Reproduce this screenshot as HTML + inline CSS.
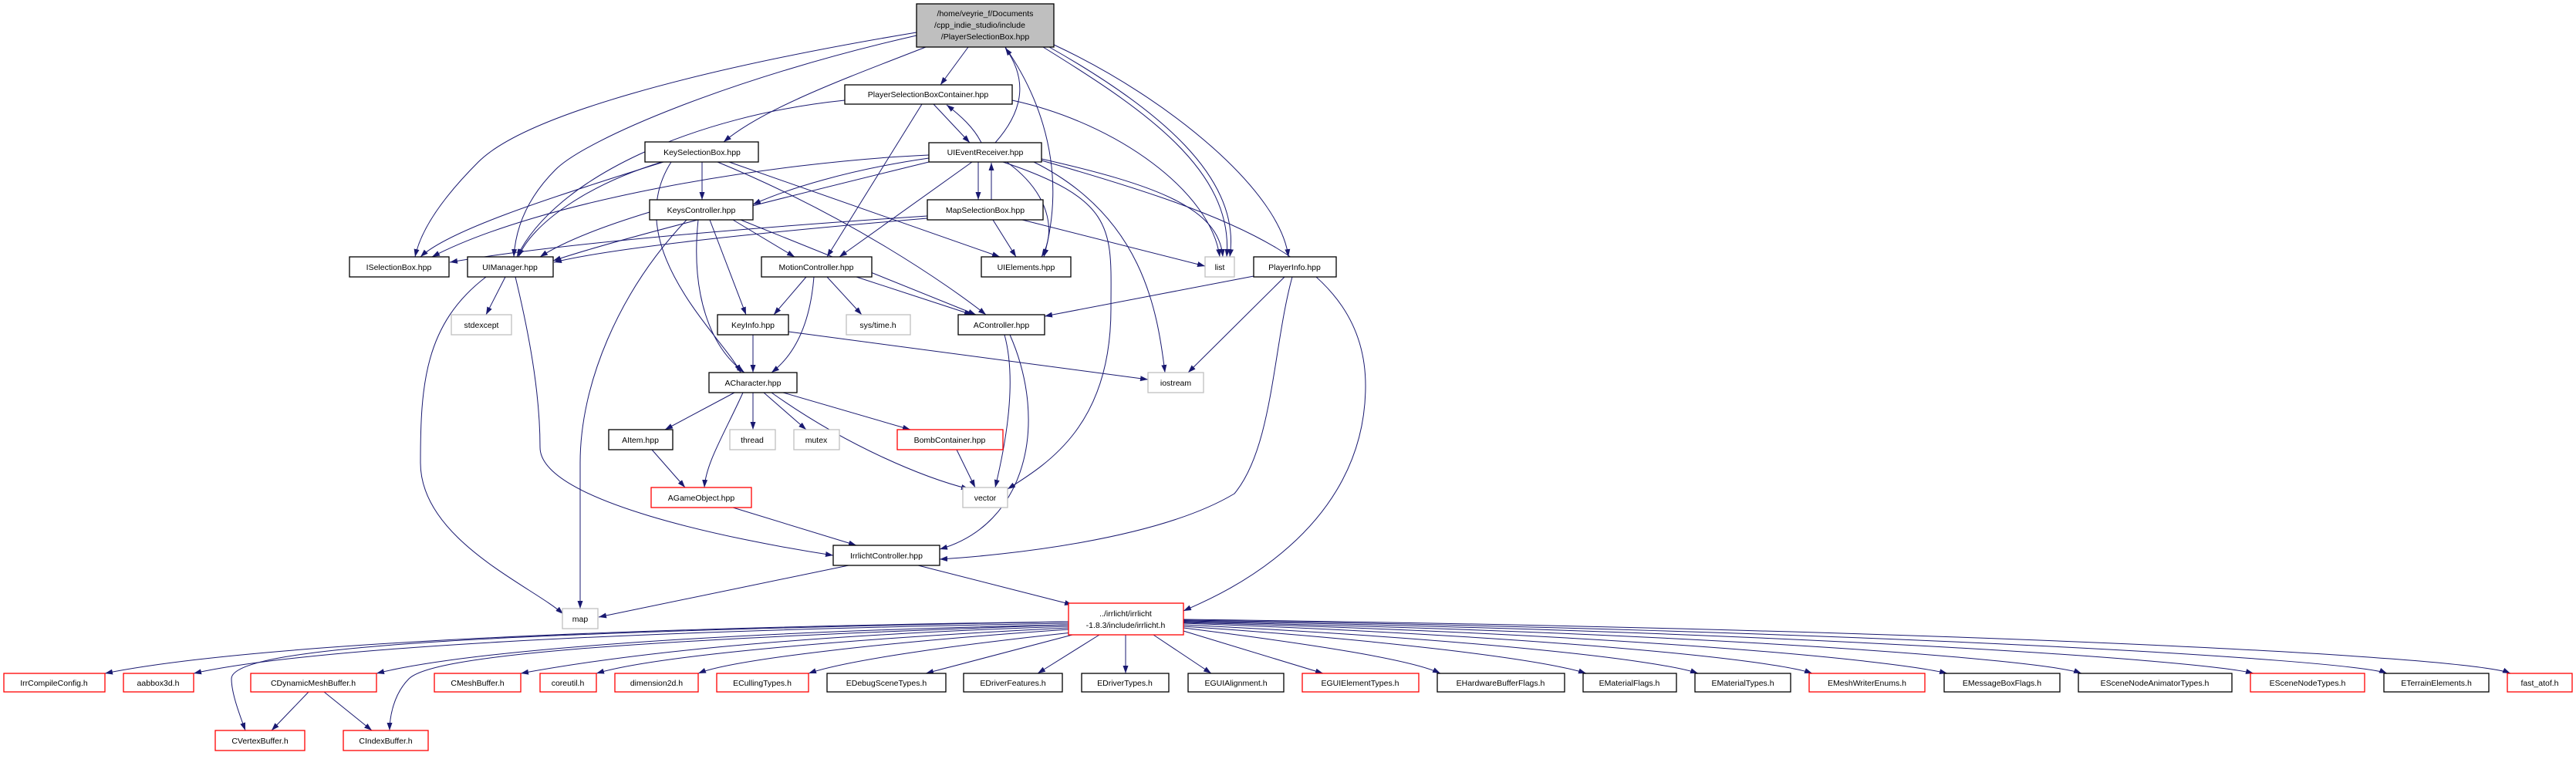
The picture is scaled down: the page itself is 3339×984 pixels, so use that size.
<!DOCTYPE html>
<html><head><meta charset="utf-8"><style>
html,body{margin:0;padding:0;background:#fff;}
svg text{font-family:"Liberation Sans",sans-serif;font-size:10.5px;}
</style></head><body>
<svg width="3339" height="979" viewBox="0 0 3339 979" xmlns="http://www.w3.org/2000/svg">
<defs><marker id="a" markerUnits="userSpaceOnUse" markerWidth="11" markerHeight="8" refX="10" refY="3.5" orient="auto"><path d="M0,0 L10,3.5 L0,7 z" fill="#191970"/></marker></defs>
<g fill="none" stroke="#191970" stroke-width="1" marker-end="url(#a)">
<path d="M1255,61 L1219,110"/>
<path d="M1200,61 C1100,100 990,140 938,184"/>
<path d="M1188,42 C900,90 680,150 620,210 C570,260 545,300 538,333"/>
<path d="M1188,46 C950,100 760,180 720,220 C680,260 668,300 666,333"/>
<path d="M1303,61 C1330,100 1390,200 1353,333"/>
<path d="M1290,185 C1330,140 1330,100 1303,62"/>
<path d="M1352,61 C1480,140 1600,220 1590,333"/>
<path d="M1360,61 C1500,140 1610,230 1594,333"/>
<path d="M1366,58 C1520,130 1660,250 1670,333"/>
<path d="M1210,135 L1257,185"/>
<path d="M1272,185 C1262,165 1245,150 1227,136"/>
<path d="M1095,130 C900,150 720,230 670,333"/>
<path d="M1195,135 L1072,333"/>
<path d="M1312,130 C1450,160 1570,250 1581,333"/>
<path d="M1268,210 L1268,259"/>
<path d="M1285,259 L1285,211"/>
<path d="M1305,210 C1360,250 1370,300 1350,333"/>
<path d="M1350,206 C1500,240 1580,270 1585,333"/>
<path d="M1340,210 C1480,280 1500,400 1510,483"/>
<path d="M1300,210 C1450,260 1440,300 1440,400 C1440,550 1360,600 1306,634"/>
<path d="M1350,208 C1600,280 1770,340 1770,500 C1770,700 1560,780 1534,792"/>
<path d="M1204,205 C1100,220 1020,245 976,265"/>
<path d="M1260,210 L1088,333"/>
<path d="M1204,210 C1000,260 800,310 717,338"/>
<path d="M1204,201 C1000,210 700,260 560,333"/>
<path d="M1202,280 C900,300 700,320 583,340"/>
<path d="M1202,283 C1000,300 800,320 718,340"/>
<path d="M1287,285 L1317,333"/>
<path d="M1325,285 L1562,345"/>
<path d="M910,210 L910,259"/>
<path d="M860,210 C700,260 580,300 545,333"/>
<path d="M858,210 C760,240 690,290 672,333"/>
<path d="M945,210 L1296,333"/>
<path d="M930,210 C1100,280 1230,370 1278,408"/>
<path d="M870,210 C800,320 940,440 960,483"/>
<path d="M905,285 C895,380 920,450 965,483"/>
<path d="M920,285 L967,408"/>
<path d="M950,285 L1030,333"/>
<path d="M890,285 C800,380 752,500 752,600 L752,789"/>
<path d="M960,285 L1265,408"/>
<path d="M842,275 C760,300 720,320 700,333"/>
<path d="M1110,359 L1260,408"/>
<path d="M1045,359 L1003,408"/>
<path d="M1055,359 C1050,420 1030,460 1000,483"/>
<path d="M1072,359 L1117,408"/>
<path d="M976,434 L976,483"/>
<path d="M1022,430 L1488,492"/>
<path d="M952,509 L862,557"/>
<path d="M963,509 C940,560 915,600 913,632"/>
<path d="M976,509 L976,557"/>
<path d="M990,509 L1045,557"/>
<path d="M1015,509 L1180,557"/>
<path d="M1000,509 C1100,580 1200,620 1256,634"/>
<path d="M845,583 L888,632"/>
<path d="M950,658 L1110,707"/>
<path d="M1240,583 L1264,632"/>
<path d="M1302,434 C1320,500 1300,590 1290,632"/>
<path d="M1309,434 C1360,550 1330,680 1218,712"/>
<path d="M1625,358 L1354,410"/>
<path d="M1665,359 L1540,483"/>
<path d="M1675,359 C1650,450 1650,580 1600,640 C1500,700 1300,720 1218,725"/>
<path d="M655,359 L630,408"/>
<path d="M630,359 C550,420 545,500 545,600 C545,700 690,760 730,796"/>
<path d="M668,359 C690,450 700,520 700,580 C700,650 950,700 1080,720"/>
<path d="M1100,733 L776,800"/>
<path d="M1190,733 L1390,784"/>
<path d="M400,897 L352,947"/>
<path d="M420,897 L482,947"/>
<path d="M1385,806 C600,820 300,840 300,880 C300,900 312,930 318,947"/>
<path d="M1385,810 C800,830 560,850 530,880 C510,900 505,930 505,947"/>
<path d="M1385,806 C700,815 300,840 136,873"/>
<path d="M1385,808 C800,818 400,840 251,873"/>
<path d="M1385,810 C900,820 600,845 488,873"/>
<path d="M1385,812 C1000,825 800,850 675,873"/>
<path d="M1385,814 C1100,828 850,850 773,873"/>
<path d="M1385,816 C1150,832 950,855 905,873"/>
<path d="M1390,820 C1250,835 1100,855 1048,873"/>
<path d="M1390,823 L1200,873"/>
<path d="M1425,823 L1345,873"/>
<path d="M1459,823 L1459,873"/>
<path d="M1495,823 L1570,873"/>
<path d="M1534,818 L1715,873"/>
<path d="M1534,814 C1700,835 1830,855 1867,873"/>
<path d="M1534,812 C1800,830 2000,855 2056,873"/>
<path d="M1534,810 C1900,828 2150,855 2201,873"/>
<path d="M1534,808 C2000,825 2300,855 2349,873"/>
<path d="M1534,807 C2100,822 2450,855 2524,873"/>
<path d="M1534,806 C2200,820 2650,855 2698,873"/>
<path d="M1534,805 C2300,818 2850,855 2921,873"/>
<path d="M1534,804 C2400,816 3050,855 3094,873"/>
<path d="M1534,803 C2500,815 3200,850 3254,873"/>
</g>
<g stroke-width="1.3" fill="#fff">
<rect x="1188" y="5" width="178" height="56" fill="#bfbfbf" stroke="#000"/>
<rect x="1095" y="110" width="217" height="25" stroke="#000"/>
<rect x="836" y="184" width="147" height="26" stroke="#000"/>
<rect x="1204" y="185" width="146" height="25" stroke="#000"/>
<rect x="1202" y="259" width="150" height="26" stroke="#000"/>
<rect x="842" y="259" width="134" height="26" stroke="#000"/>
<rect x="453" y="333" width="129" height="26" stroke="#000"/>
<rect x="606" y="333" width="111" height="26" stroke="#000"/>
<rect x="987" y="333" width="143" height="26" stroke="#000"/>
<rect x="1272" y="333" width="116" height="26" stroke="#000"/>
<rect x="1562" y="333" width="38" height="26" stroke="#bfbfbf"/>
<rect x="1625" y="333" width="107" height="26" stroke="#000"/>
<rect x="585" y="408" width="78" height="26" stroke="#bfbfbf"/>
<rect x="930" y="408" width="92" height="26" stroke="#000"/>
<rect x="1097" y="408" width="83" height="26" stroke="#bfbfbf"/>
<rect x="1242" y="408" width="112" height="26" stroke="#000"/>
<rect x="1488" y="483" width="72" height="26" stroke="#bfbfbf"/>
<rect x="919" y="483" width="114" height="26" stroke="#000"/>
<rect x="789" y="557" width="83" height="26" stroke="#000"/>
<rect x="946" y="557" width="59" height="26" stroke="#bfbfbf"/>
<rect x="1029" y="557" width="59" height="26" stroke="#bfbfbf"/>
<rect x="1163" y="557" width="137" height="26" stroke="#ff0000"/>
<rect x="844" y="632" width="130" height="26" stroke="#ff0000"/>
<rect x="1248" y="632" width="58" height="26" stroke="#bfbfbf"/>
<rect x="1080" y="707" width="138" height="26" stroke="#000"/>
<rect x="729" y="789" width="46" height="26" stroke="#bfbfbf"/>
<rect x="1385" y="782" width="149" height="41" stroke="#ff0000"/>
<rect x="5" y="873" width="131" height="24" stroke="#ff0000"/>
<rect x="160" y="873" width="91" height="24" stroke="#ff0000"/>
<rect x="325" y="873" width="163" height="24" stroke="#ff0000"/>
<rect x="563" y="873" width="112" height="24" stroke="#ff0000"/>
<rect x="700" y="873" width="73" height="24" stroke="#ff0000"/>
<rect x="797" y="873" width="108" height="24" stroke="#ff0000"/>
<rect x="929" y="873" width="119" height="24" stroke="#ff0000"/>
<rect x="1072" y="873" width="154" height="24" stroke="#000"/>
<rect x="1249" y="873" width="128" height="24" stroke="#000"/>
<rect x="1402" y="873" width="113" height="24" stroke="#000"/>
<rect x="1540" y="873" width="124" height="24" stroke="#000"/>
<rect x="1688" y="873" width="151" height="24" stroke="#ff0000"/>
<rect x="1863" y="873" width="165" height="24" stroke="#000"/>
<rect x="2052" y="873" width="121" height="24" stroke="#000"/>
<rect x="2197" y="873" width="124" height="24" stroke="#000"/>
<rect x="2345" y="873" width="150" height="24" stroke="#ff0000"/>
<rect x="2520" y="873" width="150" height="24" stroke="#000"/>
<rect x="2694" y="873" width="199" height="24" stroke="#000"/>
<rect x="2917" y="873" width="148" height="24" stroke="#ff0000"/>
<rect x="3090" y="873" width="136" height="24" stroke="#000"/>
<rect x="3250" y="873" width="84" height="24" stroke="#ff0000"/>
<rect x="279" y="947" width="116" height="26" stroke="#ff0000"/>
<rect x="445" y="947" width="110" height="26" stroke="#ff0000"/>
</g>
<g fill="#000" text-anchor="middle">
<text x="1277" y="21">/home/veyrie_f/Documents</text>
<text x="1270" y="36">/cpp_indie_studio/include</text>
<text x="1277" y="51">/PlayerSelectionBox.hpp</text>
<text x="1203" y="126">PlayerSelectionBoxContainer.hpp</text>
<text x="910" y="201">KeySelectionBox.hpp</text>
<text x="1277" y="201">UIEventReceiver.hpp</text>
<text x="1277" y="276">MapSelectionBox.hpp</text>
<text x="909" y="276">KeysController.hpp</text>
<text x="517" y="350">ISelectionBox.hpp</text>
<text x="661" y="350">UIManager.hpp</text>
<text x="1058" y="350">MotionController.hpp</text>
<text x="1330" y="350">UIElements.hpp</text>
<text x="1581" y="350">list</text>
<text x="1678" y="350">PlayerInfo.hpp</text>
<text x="624" y="425">stdexcept</text>
<text x="976" y="425">KeyInfo.hpp</text>
<text x="1138" y="425">sys/time.h</text>
<text x="1298" y="425">AController.hpp</text>
<text x="1524" y="500">iostream</text>
<text x="976" y="500">ACharacter.hpp</text>
<text x="830" y="574">AItem.hpp</text>
<text x="975" y="574">thread</text>
<text x="1058" y="574">mutex</text>
<text x="1231" y="574">BombContainer.hpp</text>
<text x="909" y="649">AGameObject.hpp</text>
<text x="1277" y="649">vector</text>
<text x="1149" y="724">IrrlichtController.hpp</text>
<text x="752" y="806">map</text>
<text x="1459" y="799">../irrlicht/irrlicht</text>
<text x="1459" y="814">-1.8.3/include/irrlicht.h</text>
<text x="70" y="889">IrrCompileConfig.h</text>
<text x="205" y="889">aabbox3d.h</text>
<text x="406" y="889">CDynamicMeshBuffer.h</text>
<text x="619" y="889">CMeshBuffer.h</text>
<text x="736" y="889">coreutil.h</text>
<text x="851" y="889">dimension2d.h</text>
<text x="988" y="889">ECullingTypes.h</text>
<text x="1149" y="889">EDebugSceneTypes.h</text>
<text x="1313" y="889">EDriverFeatures.h</text>
<text x="1458" y="889">EDriverTypes.h</text>
<text x="1602" y="889">EGUIAlignment.h</text>
<text x="1763" y="889">EGUIElementTypes.h</text>
<text x="1945" y="889">EHardwareBufferFlags.h</text>
<text x="2112" y="889">EMaterialFlags.h</text>
<text x="2259" y="889">EMaterialTypes.h</text>
<text x="2420" y="889">EMeshWriterEnums.h</text>
<text x="2595" y="889">EMessageBoxFlags.h</text>
<text x="2793" y="889">ESceneNodeAnimatorTypes.h</text>
<text x="2991" y="889">ESceneNodeTypes.h</text>
<text x="3158" y="889">ETerrainElements.h</text>
<text x="3292" y="889">fast_atof.h</text>
<text x="337" y="964">CVertexBuffer.h</text>
<text x="500" y="964">CIndexBuffer.h</text>
</g>
</svg>
</body></html>
